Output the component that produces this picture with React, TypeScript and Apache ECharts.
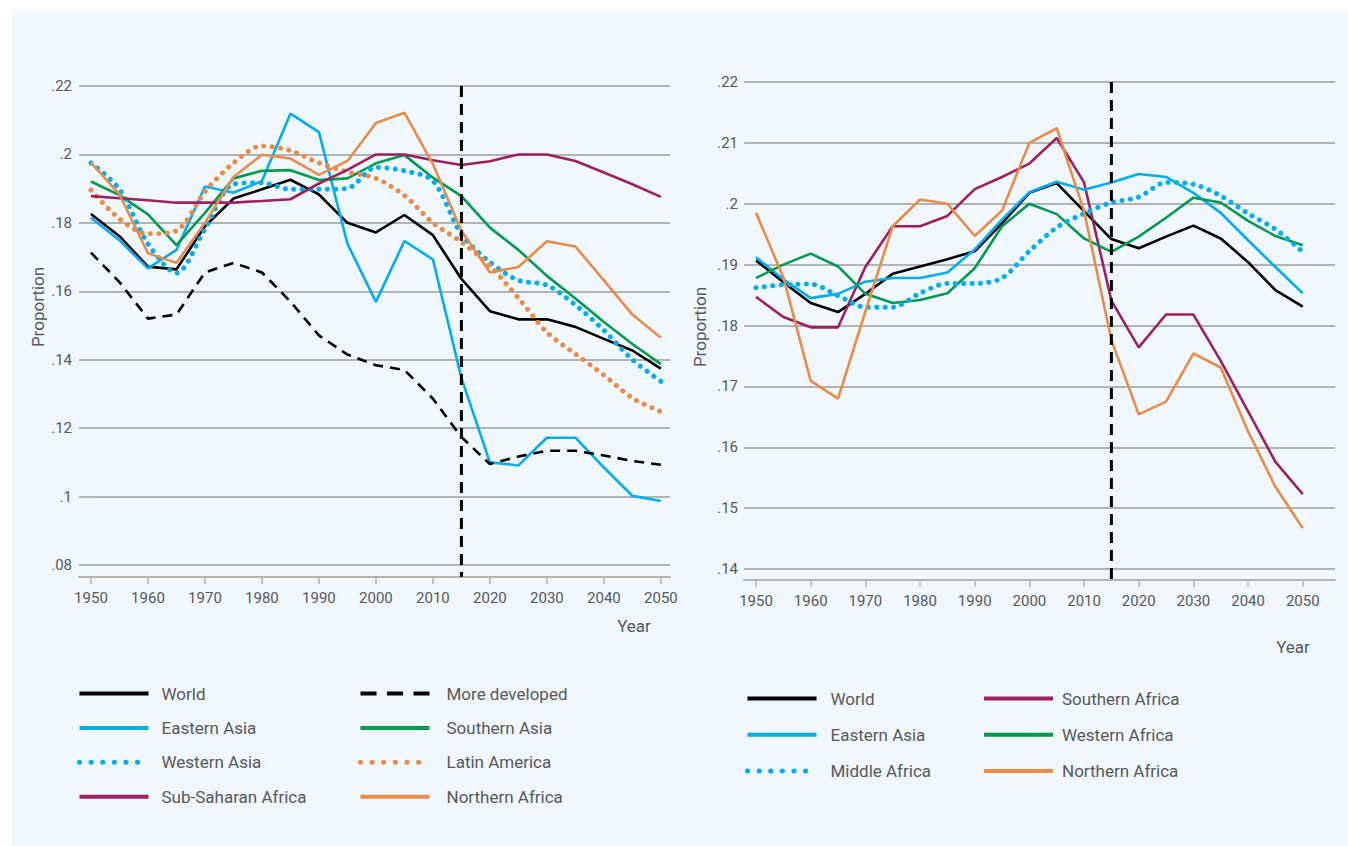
import React, { useEffect, useRef } from "react";
import * as echarts from "echarts";

const years = [1950, 1955, 1960, 1965, 1970, 1975, 1980, 1985, 1990, 1995, 2000, 2005, 2010, 2015, 2020, 2025, 2030, 2035, 2040, 2045, 2050];
const decadeTicks = [1950, 1960, 1970, 1980, 1990, 2000, 2010, 2020, 2030, 2040, 2050];
const projectionYear = 2015;

// Left panel
const worldL = [0.1826, 0.1761, 0.1672, 0.1664, 0.179, 0.1871, 0.1898, 0.1926, 0.1883, 0.18, 0.1772, 0.1823, 0.1764, 0.1636, 0.1542, 0.1518, 0.1518, 0.1496, 0.1461, 0.1427, 0.1374];
const moreDeveloped = [0.1713, 0.1627, 0.152, 0.1532, 0.1655, 0.1683, 0.1655, 0.157, 0.1471, 0.1415, 0.1384, 0.137, 0.1286, 0.1174, 0.1095, 0.1117, 0.1134, 0.1134, 0.112, 0.1104, 0.1093];
const easternAsiaL = [0.1815, 0.1749, 0.1667, 0.1721, 0.1906, 0.1888, 0.1922, 0.2119, 0.2065, 0.1739, 0.1569, 0.1747, 0.1693, 0.1347, 0.11, 0.1091, 0.1172, 0.1172, 0.1085, 0.1002, 0.0987];
const southernAsia = [0.1921, 0.1881, 0.1825, 0.1735, 0.1829, 0.193, 0.1952, 0.1954, 0.1925, 0.193, 0.1974, 0.1998, 0.1932, 0.1878, 0.1786, 0.1721, 0.1645, 0.1579, 0.151, 0.1446, 0.1387];
const westernAsia = [0.1975, 0.1898, 0.1739, 0.1653, 0.1782, 0.1913, 0.1917, 0.1898, 0.1898, 0.1901, 0.1962, 0.1952, 0.1923, 0.1767, 0.1685, 0.1632, 0.1618, 0.156, 0.1486, 0.14, 0.1337];
const latinAmerica = [0.1896, 0.1812, 0.1768, 0.1777, 0.1891, 0.1975, 0.2025, 0.2011, 0.1975, 0.1949, 0.193, 0.188, 0.18, 0.1744, 0.1674, 0.158, 0.148, 0.1417, 0.1355, 0.1288, 0.1248];
const subSaharanAfrica = [0.1878, 0.1872, 0.1866, 0.1859, 0.1859, 0.1859, 0.1864, 0.1869, 0.1915, 0.1955, 0.2, 0.2, 0.1983, 0.1969, 0.198, 0.2, 0.2, 0.1981, 0.1947, 0.1913, 0.1876];
const northernAfricaL = [0.1976, 0.1883, 0.1711, 0.1683, 0.18, 0.1934, 0.1999, 0.1988, 0.194, 0.1981, 0.2092, 0.2122, 0.1972, 0.1777, 0.1655, 0.1671, 0.1746, 0.1731, 0.1632, 0.1532, 0.1464];

// Right panel
const worldR = [0.1907, 0.1871, 0.1837, 0.1822, 0.1852, 0.1885, 0.1897, 0.1909, 0.1922, 0.1968, 0.2018, 0.2034, 0.1988, 0.1942, 0.1927, 0.1946, 0.1964, 0.1943, 0.1904, 0.1858, 0.1831];
const easternAsiaR = [0.1912, 0.1876, 0.1845, 0.1852, 0.1872, 0.1878, 0.1878, 0.1887, 0.1925, 0.1974, 0.2019, 0.2036, 0.2023, 0.2035, 0.2049, 0.2044, 0.2018, 0.1985, 0.194, 0.1896, 0.1853];
const middleAfrica = [0.1862, 0.1867, 0.1868, 0.1849, 0.183, 0.183, 0.1853, 0.1869, 0.1869, 0.1878, 0.1922, 0.1961, 0.1984, 0.2002, 0.2011, 0.2035, 0.2032, 0.2013, 0.1984, 0.1958, 0.1921];
const southernAfrica = [0.1847, 0.1814, 0.1797, 0.1797, 0.1896, 0.1963, 0.1963, 0.198, 0.2024, 0.2044, 0.2066, 0.2108, 0.2035, 0.1841, 0.1764, 0.1818, 0.1818, 0.1742, 0.1659, 0.1576, 0.1523];
const westernAfrica = [0.1878, 0.19, 0.1918, 0.1897, 0.1852, 0.1837, 0.1842, 0.1853, 0.1894, 0.1963, 0.2, 0.1983, 0.1943, 0.1921, 0.1946, 0.1977, 0.201, 0.2002, 0.1972, 0.1947, 0.1932];
const northernAfricaR = [0.1985, 0.1879, 0.1709, 0.168, 0.1823, 0.1963, 0.2007, 0.2, 0.1947, 0.1989, 0.21, 0.2124, 0.1988, 0.1776, 0.1654, 0.1675, 0.1754, 0.1731, 0.1626, 0.1535, 0.1467];

const C = {
  black: "#000000",
  blue: "#00aeef",
  green: "#009b4e",
  orange: "#ea8c47",
  purple: "#9e1f63",
  text: "#58595b",
  grid: "#9c9c9c",
  axis: "#b4b4b4",
};
const FONT = "Roboto, 'Noto Sans', sans-serif";

const DOT = [0.1, 8.3];
const DASH = [10, 7];

function pairs(vals: number[]) {
  return years.map((y, i) => [y, vals[i]]);
}

type Def = { name: string; data: number[]; color: string; kind: "solid" | "dot" | "dash" };

const leftDefs: Def[] = [
  { name: "World", data: worldL, color: C.black, kind: "solid" },
  { name: "More developed", data: moreDeveloped, color: C.black, kind: "dash" },
  { name: "Eastern Asia", data: easternAsiaL, color: C.blue, kind: "solid" },
  { name: "Southern Asia", data: southernAsia, color: C.green, kind: "solid" },
  { name: "Western Asia", data: westernAsia, color: C.blue, kind: "dot" },
  { name: "Latin America", data: latinAmerica, color: C.orange, kind: "dot" },
  { name: "Sub-Saharan Africa", data: subSaharanAfrica, color: C.purple, kind: "solid" },
  { name: "Northern Africa", data: northernAfricaL, color: C.orange, kind: "solid" },
];
const rightDefs: Def[] = [
  { name: "World", data: worldR, color: C.black, kind: "solid" },
  { name: "Southern Africa", data: southernAfrica, color: C.purple, kind: "solid" },
  { name: "Eastern Asia", data: easternAsiaR, color: C.blue, kind: "solid" },
  { name: "Western Africa", data: westernAfrica, color: C.green, kind: "solid" },
  { name: "Middle Africa", data: middleAfrica, color: C.blue, kind: "dot" },
  { name: "Northern Africa", data: northernAfricaR, color: C.orange, kind: "solid" },
];

function makeSeries(d: Def, idx: number) {
  const lineStyle: any = { color: d.color, width: 2.6 };
  if (d.kind === "dot") {
    lineStyle.width = 5;
    lineStyle.type = DOT;
    lineStyle.cap = "round";
  } else if (d.kind === "dash") {
    lineStyle.type = DASH;
    lineStyle.width = 2.6;
  }
  return {
    type: "line",
    name: d.name,
    xAxisIndex: idx,
    yAxisIndex: idx,
    data: pairs(d.data),
    symbol: "none",
    smooth: d.kind === "dot" ? 0.3 : false,
    lineStyle,
    itemStyle: { color: d.color },
    z: d.kind === "dash" ? 3 : 2,
  };
}

function legendItem(name: string, kind: string) {
  if (kind === "dot") return { name, lineStyle: { width: 5, type: [0.1, 11.5], cap: "round" } };
  if (kind === "dash") return { name, lineStyle: { width: 4, type: [16, 10.5] } };
  return { name, lineStyle: { width: 4 } };
}

function legend(items: [string, string][], left: number, top: number, gap: number, textPad: number) {
  return {
    orient: "vertical",
    left,
    top,
    itemWidth: 69,
    itemHeight: 16,
    itemGap: gap,
    selectedMode: false,
    padding: 0,
    itemStyle: { opacity: 0 },
    lineStyle: { width: 4 },
    textStyle: { fontFamily: FONT, fontSize: 17, color: C.text, lineHeight: 16, padding: [0, 0, 0, textPad] },
    data: items.map(([n, k]) => legendItem(n, k)),
  };
}

function yFmt(v: number) {
  const s = String(+v.toFixed(2));
  return s.replace(/^0/, "");
}

function xAxis(idx: number, min: number, max: number, offset: number) {
  return {
    type: "value",
    gridIndex: idx,
    min,
    max,
    offset,
    axisLine: { show: true, onZero: false, lineStyle: { color: C.axis, width: 2 } },
    axisTick: { show: true, customValues: decadeTicks, length: 7, lineStyle: { color: C.axis, width: 1.5 } },
    axisLabel: {
      customValues: decadeTicks,
      formatter: (v: number) => String(Math.round(v)),
      color: C.text,
      fontSize: 15,
      fontFamily: FONT,
      margin: 13,
    },
    splitLine: { show: false },
  };
}

function yAxis(idx: number, min: number, max: number, interval: number, margin: number) {
  return {
    type: "value",
    gridIndex: idx,
    min,
    max,
    interval,
    axisLine: { show: false },
    axisTick: { show: false },
    axisLabel: { formatter: yFmt, color: C.text, fontSize: 15, fontFamily: FONT, margin },
    splitLine: { show: true, lineStyle: { color: C.grid, width: 1.5 } },
  };
}

export default function App() {
  const ref = useRef<HTMLDivElement>(null);
  useEffect(() => {
    document.body.style.margin = "0";
    if (!ref.current) return;
    const chart = echarts.init(ref.current, undefined, { renderer: "svg" });
    const option: any = {
      animation: false,
      grid: [
        { left: 79, top: 86, width: 591, height: 479 },
        { left: 744, top: 82, width: 591, height: 487 },
      ],
      xAxis: [xAxis(0, 1947.9, 2051.6, 12), xAxis(1, 1947.8, 2055.9, 11)],
      yAxis: [yAxis(0, 0.08, 0.22, 0.02, 7), yAxis(1, 0.14, 0.22, 0.01, 6)],
      legend: [
        legend([["World", "solid"], ["Eastern Asia", "solid"], ["Western Asia", "dot"], ["Sub-Saharan Africa", "solid"]], 77, 685, 17.4, 8),
        legend([["More developed", "dash"], ["Southern Asia", "solid"], ["Latin America", "dot"], ["Northern Africa", "solid"]], 358, 685, 17.4, 12),
        legend([["World", "solid"], ["Eastern Asia", "solid"], ["Middle Africa", "dot"]], 745, 690, 19.3, 9),
        legend([["Southern Africa", "solid"], ["Western Africa", "solid"], ["Northern Africa", "solid"]], 982, 690, 19.3, 4),
      ],
      series: [...leftDefs.map((d) => makeSeries(d, 0)), ...rightDefs.map((d) => makeSeries(d, 1))],
    };
    chart.setOption(option);

    const top0 = chart.convertToPixel({ xAxisIndex: 0, yAxisIndex: 0 }, [projectionYear, 0.22]);
    const bot0 = chart.convertToPixel({ xAxisIndex: 0, yAxisIndex: 0 }, [projectionYear, 0.08]);
    const top1 = chart.convertToPixel({ xAxisIndex: 1, yAxisIndex: 1 }, [projectionYear, 0.22]);
    const bot1 = chart.convertToPixel({ xAxisIndex: 1, yAxisIndex: 1 }, [projectionYear, 0.14]);
    const dashStyle = { stroke: "#000", lineWidth: 3, lineDash: [11, 7] };
    const labelStyle = { fill: C.text, font: `17px ${FONT}`, align: "center", verticalAlign: "middle" };
    chart.setOption({
      graphic: [
        { type: "line", z: 50, shape: { x1: top0[0], y1: top0[1], x2: bot0[0], y2: bot0[1] + 12 }, style: dashStyle },
        { type: "line", z: 50, shape: { x1: top1[0], y1: top1[1], x2: bot1[0], y2: bot1[1] + 11 }, style: dashStyle },
        { type: "text", x: 38, y: 307, rotation: Math.PI / 2, style: { ...labelStyle, text: "Proportion" } },
        { type: "text", x: 700, y: 327, rotation: Math.PI / 2, style: { ...labelStyle, text: "Proportion" } },
        { type: "text", x: 634, y: 626, style: { ...labelStyle, text: "Year" } },
        { type: "text", x: 1293, y: 647, style: { ...labelStyle, text: "Year" } },
      ],
    });
    return () => chart.dispose();
  }, []);
  return (
    <div style={{ position: "relative", width: 1348, height: 846, background: "#ffffff", overflow: "hidden" }}>
      <div style={{ position: "absolute", left: 12, top: 10, right: 0, bottom: 0, background: "#f0f7fd" }} />
      <div ref={ref} style={{ position: "absolute", left: 0, top: 0, width: 1348, height: 846 }} />
    </div>
  );
}
